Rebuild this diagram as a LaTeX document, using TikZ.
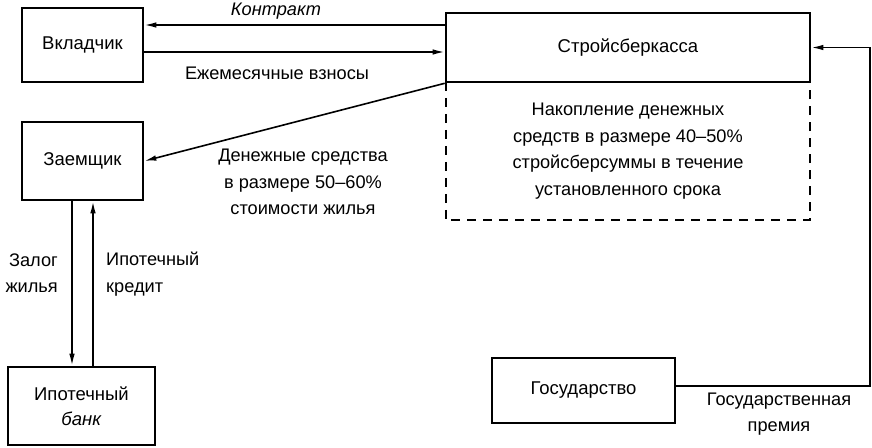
\documentclass[tikz,border=0pt]{standalone}
\usepackage{fontspec}
\setmainfont{Liberation Sans}
\usetikzlibrary{arrows.meta}
\begin{document}
\begin{tikzpicture}[x=1pt,y=-1pt,
  box/.style={draw,line width=2.6pt,align=center,inner sep=0pt,font=\fontsize{18.5}{25}\selectfont},
  lbl/.style={align=center,inner sep=0pt,font=\fontsize{18.2}{26.5}\selectfont},
  arr/.style={line width=1.6pt,-{Latex[length=12pt,width=5.5pt]}},
  ln/.style={line width=1.6pt}]
\useasboundingbox (0,0) rectangle (872,447);
\node[box,minimum width=121pt,minimum height=74pt] (vk) at (82.5,45) {Вкладчик};
\node[box,minimum width=364pt,minimum height=69pt] (sk) at (628,47.5) {Стройсберкасса};
\node[lbl,minimum width=364pt,minimum height=138pt] (acc) at (628,151) {Накопление денежных\\средств в размере 40–50\%\\стройсберсуммы в течение\\установленного срока};
\draw[line width=1.6pt,dash pattern=on 9pt off 7pt] (acc.north west) -- (acc.south west) -- (acc.south east) -- (acc.north east);
\node[box,minimum width=121pt,minimum height=78pt] (zm) at (82.5,161) {Заемщик};
\node[box,minimum width=147pt,minimum height=78pt] (ib) at (81.5,406) {Ипотечный\\\textit{банк}};
\node[box,minimum width=183pt,minimum height=65pt] (gs) at (583.5,390.5) {Государство};
% arrows
\draw[arr] (sk.west |- 0,25) -- (vk.east |- 0,25);
\draw[arr] (vk.east |- 0,52) -- (sk.west |- 0,52);
\draw[arr] (sk.south west) -- (zm.east);
\draw[arr] (zm.south -| 72,0) -- (ib.north -| 72,0);
\draw[arr] (ib.north -| 93,0) -- (zm.south -| 93,0);
\coordinate (c1) at (870,386);
\coordinate (c2) at (870,47.5);
\draw[arr] (gs.east |- c1) -- (c1) -- (c2) -- (sk.east);
% labels
\node[lbl] (lk) at (276,11) {\textit{Контракт}};
\node[lbl] (le) at (277,73) {Ежемесячные взносы};
\node[lbl] (ld) at (303,182) {Денежные средства\\в размере 50–60\%\\стоимости жилья};
\node[lbl,align=right,anchor=east] (lz) at (58,273) {Залог\\жилья};
\node[lbl,align=left,anchor=west] (li) at (106,274) {Ипотечный\\кредит};
\node[lbl] (lg) at (779,414) {Государственная\\премия};
\end{tikzpicture}
\end{document}
